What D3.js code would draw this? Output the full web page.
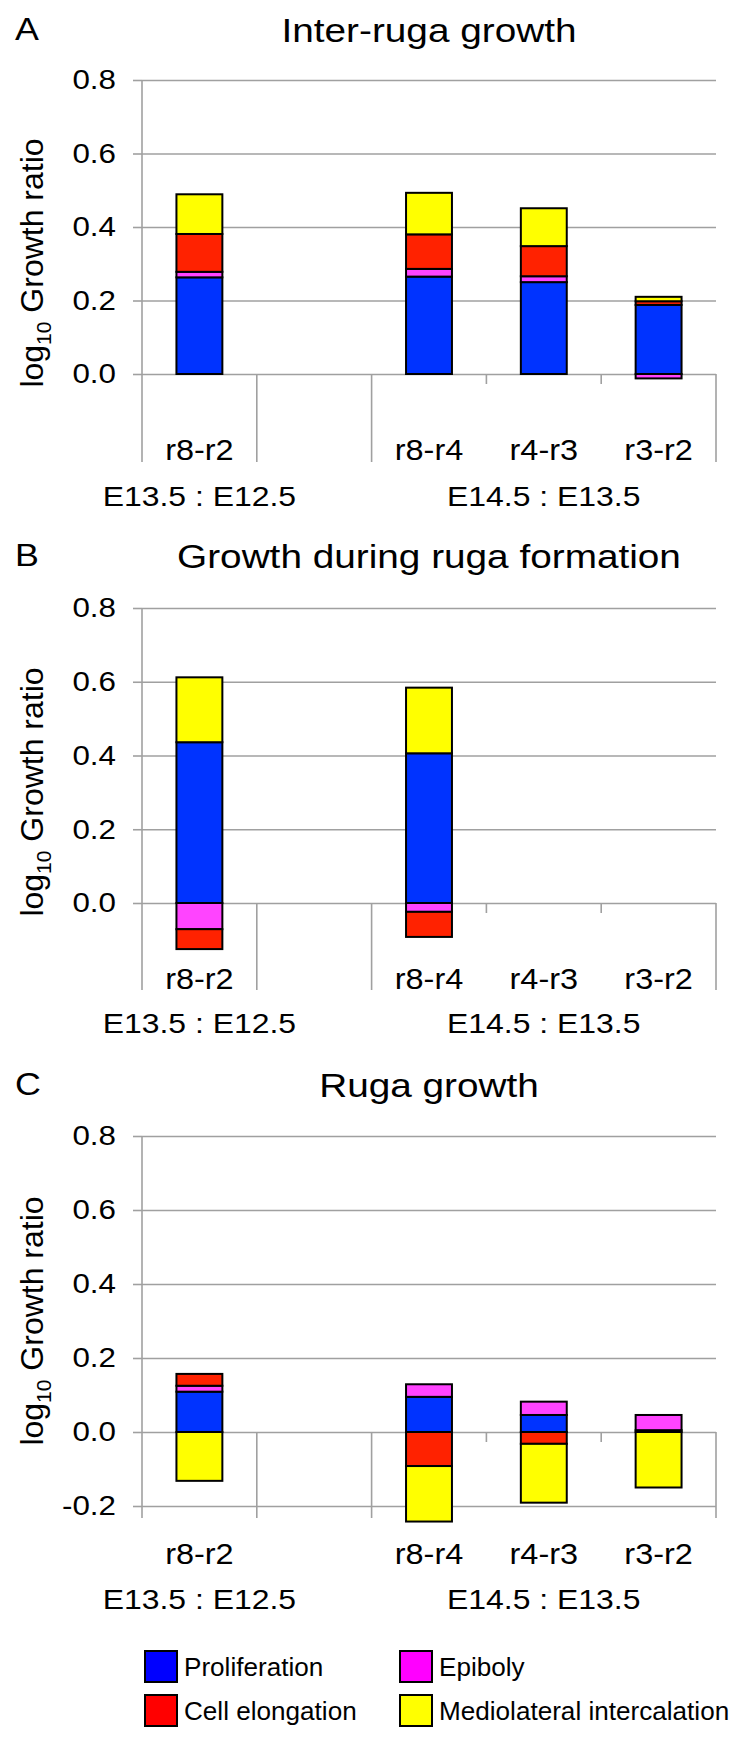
<!DOCTYPE html>
<html>
<head>
<meta charset="utf-8">
<script src="https://cdn.jsdelivr.net/npm/d3@7"></script>
<style>
  body { margin: 0; background: #fff; }
  svg { display: block; font-family: "Liberation Sans", Arial, sans-serif; }
</style>
</head>
<body>
<svg id="chart" width="740" height="1752"></svg>
<script>
// categories on the x axis (second one is left empty in the figure)
var categories = ["r8-r2", "", "r8-r4", "r4-r3", "r3-r2"];
var groupLabels = ["E13.5 : E12.5", "E14.5 : E13.5"];
var groupCats = [[0, 0], [2, 4]];
var seriesNames = ["Proliferation", "Epiboly", "Cell elongation", "Mediolateral intercalation"];

// A - inter-ruga growth
var interProlif  = [0.263, 0, 0.265, 0.250, 0.188];
var interEpiboly = [0.015, 0, 0.021, 0.016, -0.012];
var interElong   = [0.103, 0, 0.094, 0.082, 0.010];
var interMLI     = [0.108, 0, 0.113, 0.103, 0.012];

// B - growth during ruga formation
var formProlif  = [0.436, 0, 0.406, 0, 0];
var formEpiboly = [-0.071, 0, -0.024, 0, 0];
var formElong   = [-0.054, 0, -0.068, 0, 0];
var formMLI     = [0.176, 0, 0.178, 0, 0];

// C - ruga growth
var rugaProlif  = [0.109, 0, 0.095, 0.046, 0.005];
var rugaEpiboly = [0.016, 0, 0.034, 0.036, 0.041];
var rugaElong   = [0.032, 0, -0.092, -0.032, 0];
var rugaMLI     = [-0.132, 0, -0.150, -0.159, -0.150];

var ticksAB = [0, 0.2, 0.4, 0.6, 0.8];
var ticksC = [-0.2, 0, 0.2, 0.4, 0.6, 0.8];

var barColors = ["#0033ff", "#ff44ff", "#ff2200", "#ffff00"];
var legendColors = ["#0000ff", "#ff00ff", "#ff0000", "#ffff00"];

var svg = d3.select("#chart");
var plotLeft = 142, plotRight = 716;
var gridColor = "#a0a0a0";
var sx = 1.12; // the original lettering is a bit wider than Arial

function widen(sel, k) {
  sel.each(function() {
    var t = d3.select(this);
    var x = +t.attr("x") || 0;
    t.attr("x", x / k).attr("transform", "scale(" + k + ",1)");
  });
}

function rows(a, b, c, d) {
  return categories.map(function(cat, i) {
    var r = {};
    r[seriesNames[0]] = a[i];
    r[seriesNames[1]] = b[i];
    r[seriesNames[2]] = c[i];
    r[seriesNames[3]] = d[i];
    return r;
  });
}

var panels = [
  {letter: "A", title: "Inter-ruga growth", data: rows(interProlif, interEpiboly, interElong, interMLI),
   domain: [0, 0.8], ticks: ticksAB, yRange: [374, 80], titleY: 42, sepBottom: 462, catY: 460, groupY: 506},
  {letter: "B", title: "Growth during ruga formation", data: rows(formProlif, formEpiboly, formElong, formMLI),
   domain: [0, 0.8], ticks: ticksAB, yRange: [903, 608], titleY: 568, sepBottom: 990, catY: 989, groupY: 1033},
  {letter: "C", title: "Ruga growth", data: rows(rugaProlif, rugaEpiboly, rugaElong, rugaMLI),
   domain: [-0.2, 0.8], ticks: ticksC, yRange: [1506, 1136], titleY: 1097, sepBottom: 1518, catY: 1564, groupY: 1609}
];

var stack = d3.stack().keys(seriesNames).offset(d3.stackOffsetDiverging);

function drawPanel(p) {
  var g = svg.append("g");
  var x = d3.scaleBand().domain(d3.range(categories.length)).range([plotLeft, plotRight]);
  var y = d3.scaleLinear().domain(p.domain).range(p.yRange);
  var top = y(d3.max(p.ticks));

  // gridlines
  var grid = g.append("g").attr("transform", "translate(" + plotLeft + ",0)")
    .call(d3.axisLeft(y).tickValues(p.ticks).tickSize(-(plotRight - plotLeft)).tickFormat(""));
  grid.select(".domain").remove();
  grid.selectAll("line").attr("stroke", gridColor).attr("stroke-width", 1.6);

  // y axis with labels
  var ax = g.append("g").attr("transform", "translate(" + plotLeft + ",0)")
    .call(d3.axisLeft(y).tickValues(p.ticks).tickSize(9).tickPadding(17)
      .tickFormat(function(d) { return d.toFixed(1); }));
  ax.select(".domain").remove();
  ax.selectAll("line").attr("stroke", gridColor).attr("stroke-width", 1.6);
  ax.selectAll("text").attr("font-size", 28).attr("fill", "#000").attr("font-family", null);
  widen(ax.selectAll("text"), sx);

  // vertical axis line, runs on into the category area
  g.append("line").attr("x1", plotLeft).attr("x2", plotLeft)
    .attr("y1", top).attr("y2", p.sepBottom)
    .attr("stroke", gridColor).attr("stroke-width", 1.6);

  // category separators: long ones between groups, short ticks inside
  var longSep = [0, 1, 2, 5];
  d3.range(categories.length + 1).forEach(function(i) {
    var xp = i < categories.length ? x(i) : plotRight;
    if (i === 0) return;
    g.append("line").attr("x1", xp).attr("x2", xp)
      .attr("y1", y(0)).attr("y2", longSep.indexOf(i) >= 0 ? p.sepBottom : y(0) + 10)
      .attr("stroke", gridColor).attr("stroke-width", 1.6);
  });

  // stacked bars
  var bw = x.bandwidth() * 0.4;
  var layers = stack(p.data);
  g.selectAll("g.layer").data(layers).enter().append("g")
    .attr("class", "layer")
    .attr("fill", function(d, i) { return barColors[i]; })
    .selectAll("rect")
    .data(function(d) { return d.map(function(v, j) { return {v: v, j: j}; }).filter(function(e) { return e.v[1] !== e.v[0]; }); })
    .enter().append("rect")
      .attr("x", function(e) { return x(e.j) + (x.bandwidth() - bw) / 2; })
      .attr("y", function(e) { return y(e.v[1]); })
      .attr("width", bw)
      .attr("height", function(e) { return y(e.v[0]) - y(e.v[1]); })
      .attr("stroke", "#000")
      .attr("stroke-width", 2);

  // category labels
  var cl = g.selectAll("text.cat").data(categories).enter().append("text")
    .attr("class", "cat")
    .attr("x", function(d, i) { return x(i) + x.bandwidth() / 2; })
    .attr("y", p.catY)
    .attr("text-anchor", "middle")
    .attr("font-size", 29)
    .text(function(d) { return d; });
  widen(cl, sx);

  // group labels
  var gl = g.selectAll("text.grp").data(groupLabels).enter().append("text")
    .attr("class", "grp")
    .attr("x", function(d, i) { return (x(groupCats[i][0]) + x(groupCats[i][1]) + x.bandwidth()) / 2; })
    .attr("y", p.groupY)
    .attr("text-anchor", "middle")
    .attr("font-size", 28)
    .text(function(d) { return d; });
  widen(gl, 1.14);

  // y axis title
  var yl = g.append("text")
    .attr("transform", "translate(43," + (y(0) - 111) + ") rotate(-90)")
    .attr("text-anchor", "middle")
    .attr("font-size", 32);
  yl.append("tspan").text("log");
  yl.append("tspan").attr("font-size", 21).attr("dy", 8).text("10");
  yl.append("tspan").attr("dy", -8).text(" Growth ratio");

  // panel letter and title
  var lt = g.append("text").attr("x", 15).attr("y", p.titleY - 2).attr("font-size", 32).text(p.letter);
  widen(lt, sx);
  var tt = g.append("text").attr("x", (plotLeft + plotRight) / 2).attr("y", p.titleY)
    .attr("text-anchor", "middle").attr("font-size", 34).text(p.title);
  widen(tt, 1.14);
}

panels.forEach(drawPanel);

// legend
var leg = svg.append("g").selectAll("g").data(seriesNames).enter().append("g")
  .attr("transform", function(d, i) { return "translate(" + (i % 2 ? 400 : 145) + "," + (1651 + Math.floor(i / 2) * 44) + ")"; });
leg.append("rect").attr("width", 32).attr("height", 31)
  .attr("fill", function(d, i) { return legendColors[i]; })
  .attr("stroke", "#000").attr("stroke-width", 2);
var lt = leg.append("text").attr("x", 39).attr("y", 25).attr("font-size", 25)
  .text(function(d) { return d; });
widen(lt, 1.045);
</script>
</body>
</html>
